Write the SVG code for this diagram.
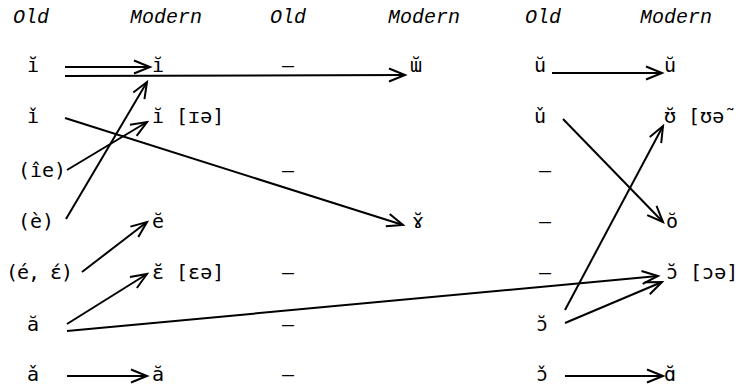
<svg xmlns="http://www.w3.org/2000/svg" width="747" height="387" viewBox="0 0 747 387">
<style>
text{font-family:"DejaVu Sans Mono","Liberation Mono",monospace;font-size:20px;fill:#000}
.h{font-family:"Liberation Mono","DejaVu Sans Mono",monospace;font-style:italic}
.c{stroke:#000;stroke-width:2;fill:none;marker-end:url(#ah)}
</style>
<defs>
<marker id="ah" markerUnits="userSpaceOnUse" markerWidth="20" markerHeight="18" viewBox="-17 -9 20 18" refX="0" refY="0" orient="auto">
<path d="M-16,-6.5 L0,0 L-16,6.5" fill="none" stroke="#000" stroke-width="2"/>
</marker>
</defs>
<rect width="747" height="387" fill="#fff"/>
<g id="headers">
<text class="h" x="13" y="23">Old</text>
<text class="h" x="130" y="23">Modern</text>
<text class="h" x="270" y="23">Old</text>
<text class="h" x="388" y="23">Modern</text>
<text class="h" x="525" y="23">Old</text>
<text class="h" x="640" y="23">Modern</text>
</g>
<g id="old1">
<text x="27" y="72">ı̆</text>
<text x="27" y="123">ı̌</text>
<text x="18" y="177">(îe)</text>
<text x="18" y="228">(è)</text>
<text x="6" y="279" textLength="67" lengthAdjust="spacing">(é, ɛ́)</text>
<text x="27" y="331">ă</text>
<text x="27" y="381">ǎ</text>
</g>
<g id="modern1">
<text x="152" y="72">ĭ</text>
<text x="152" y="123">ĭ [ɪə]</text>
<text x="152" y="228">ĕ</text>
<text x="152" y="279">ɛ̆ [ɛə]</text>
<text x="152" y="381">ă</text>
</g>
<g id="old2">
<text x="282" y="72">–</text>
<text x="282" y="177">–</text>
<text x="282" y="279">–</text>
<text x="282" y="331">–</text>
<text x="282" y="381">–</text>
</g>
<g id="modern2">
<text x="410" y="72">ɯ̆</text>
<text x="412" y="228">ɤ̆</text>
</g>
<g id="old3">
<text x="534" y="72">ŭ</text>
<text x="534" y="123">ǔ</text>
<text x="539" y="177">–</text>
<text x="539" y="228">–</text>
<text x="539" y="279">–</text>
<text x="536" y="331">ɔ̆</text>
<text x="536" y="381">ɔ̌</text>
</g>
<g id="modern3">
<text x="664" y="72">ŭ</text>
<text x="664" y="123">ʊ̆ [ʊə˜</text>
<text x="666" y="228">ŏ</text>
<text x="666" y="279">ɔ̆ [ɔə]</text>
<text x="664" y="381">ɑ̆</text>
</g>
<g id="connectors">
<line class="c" x1="65" y1="67" x2="150" y2="67"/>
<line class="c" x1="65" y1="76" x2="405" y2="75"/>
<line class="c" x1="65" y1="118" x2="403" y2="225"/>
<line class="c" x1="67" y1="170" x2="147" y2="122"/>
<line class="c" x1="66" y1="219" x2="147" y2="82"/>
<line class="c" x1="82" y1="272" x2="147" y2="222"/>
<line class="c" x1="67" y1="324" x2="147" y2="274"/>
<line class="c" x1="67" y1="331" x2="658" y2="276"/>
<line class="c" x1="67" y1="376" x2="147" y2="376"/>
<line class="c" x1="552" y1="73" x2="662" y2="73"/>
<line class="c" x1="563" y1="119" x2="663" y2="222"/>
<line class="c" x1="565" y1="310" x2="663" y2="126"/>
<line class="c" x1="565" y1="323" x2="662" y2="282"/>
<line class="c" x1="565" y1="376" x2="663" y2="376"/>
</g>
</svg>
